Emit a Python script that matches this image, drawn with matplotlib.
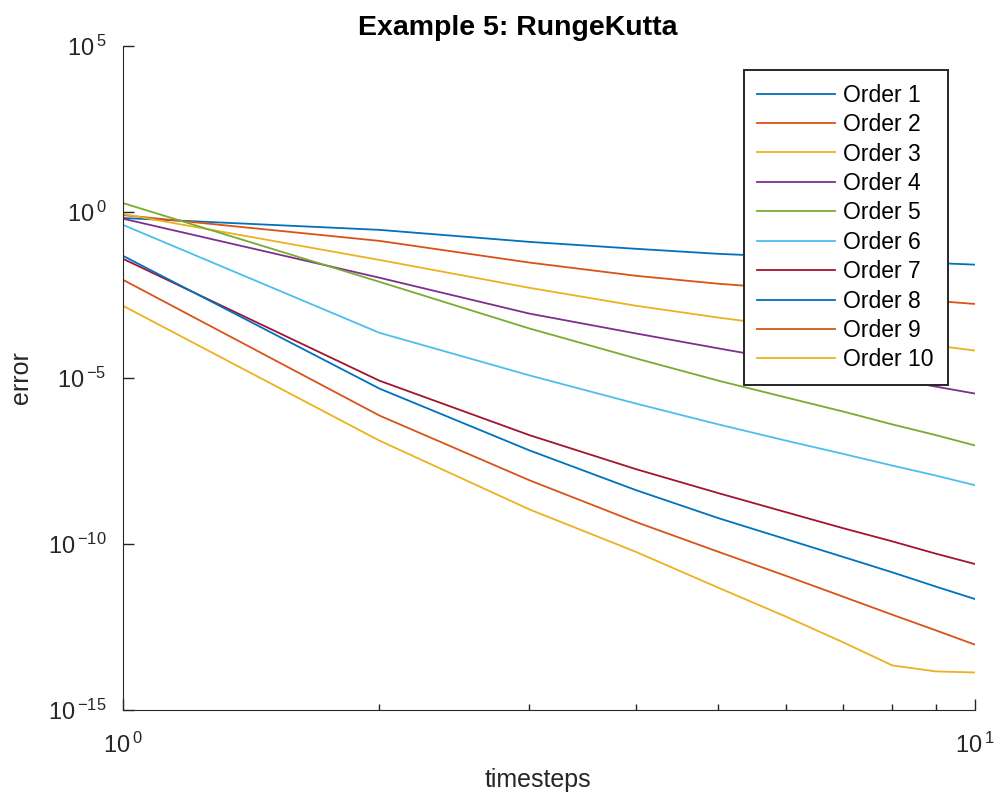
import matplotlib
matplotlib.use('Agg')
import matplotlib.pyplot as plt
import matplotlib.ticker as mticker
import math

# ─── Dados ──────────────────────────────────────────────────────────────────
timesteps = [1, 2, 3, 4, 5, 6, 7, 8, 9, 10]

order1 = [0.66, 0.29, 0.126, 0.078, 0.055, 0.045, 0.038, 0.032, 0.029, 0.026]
order2 = [0.81, 0.135, 0.030, 0.012, 6.9e-3, 4.9e-3, 3.5e-3, 2.7e-3, 2.1e-3, 1.7e-3]
order3 = [0.87, 0.036, 5.2e-3, 1.5e-3, 6.6e-4, 3.6e-4, 2.2e-4, 1.45e-4, 9.5e-5, 6.7e-5]
order4 = [0.63, 0.0105, 8.7e-4, 2.2e-4, 7.8e-5, 3.4e-5, 1.7e-5, 9.3e-6, 5.5e-6, 3.4e-6]
order5 = [1.86, 7.9e-3, 3.1e-4, 3.9e-5, 8.3e-6, 2.6e-6, 9.8e-7, 4.0e-7, 1.9e-7, 9.3e-8]
order6 = [0.41, 2.3e-4, 1.2e-5, 1.7e-6, 4.0e-7, 1.3e-7, 5.2e-8, 2.3e-8, 1.15e-8, 5.9e-9]
order7 = [0.039, 8.3e-6, 1.9e-7, 1.8e-8, 3.4e-9, 9.1e-10, 3.0e-10, 1.2e-10, 5.1e-11, 2.5e-11]
order8 = [0.048, 4.8e-6, 6.6e-8, 4.2e-9, 6.0e-10, 1.4e-10, 4.1e-11, 1.4e-11, 5.2e-12, 2.2e-12]
order9 = [9.1e-3, 7.4e-7, 8.3e-9, 4.6e-10, 5.8e-11, 1.1e-11, 2.6e-12, 7.4e-13, 2.5e-13, 9.3e-14]
order10 = [1.5e-3, 1.3e-7, 1.1e-9, 5.8e-11, 4.8e-12, 6.5e-13, 1.1e-13, 2.2e-14, 1.45e-14, 1.35e-14]

series = [order1, order2, order3, order4, order5, order6, order7, order8, order9, order10]
labels = [f'Order {i}' for i in range(1, 11)]

# paleta padrão do MATLAB (7 cores, repete)
MATLAB_COLORS = ['#0072BD', '#D95319', '#EDB120', '#7E2F8E', '#77AC30', '#4DBEEE', '#A2142F']
INK = '#262626'

plt.rcParams.update({
    'font.family': ['Liberation Sans', 'DejaVu Sans'],
    'mathtext.default': 'regular',
    'axes.edgecolor': INK,
    'xtick.color': INK,
    'ytick.color': INK,
})


def _pow10(v, _):
    """Rótulo estilo MATLAB: 10 com expoente afastado."""
    if v <= 0:
        return ''
    e = int(round(math.log10(v)))
    sign = '{-}' if e < 0 else ''
    return r'$10^{\,%s%d}$' % (sign, abs(e))


fig = plt.figure(figsize=(9.98, 7.99), dpi=100)
ax = fig.add_axes([0.1232, 0.1114, 0.8537, 0.8310])

for i, (vals, lab) in enumerate(zip(series, labels)):
    ax.plot(timesteps, vals, color=MATLAB_COLORS[i % len(MATLAB_COLORS)], lw=1.3, label=lab)

ax.set_xscale('log')
ax.set_yscale('log')
ax.set_xlim(1, 10)
ax.set_ylim(1e-15, 1e5)

ax.set_xticks([1, 10])
ax.xaxis.set_major_formatter(mticker.FuncFormatter(_pow10))
ax.xaxis.set_minor_locator(mticker.LogLocator(base=10, subs=range(2, 10)))
ax.xaxis.set_minor_formatter(mticker.NullFormatter())
ax.set_yticks([1e-15, 1e-10, 1e-5, 1e0, 1e5])
ax.yaxis.set_major_formatter(mticker.FuncFormatter(_pow10))
ax.yaxis.set_minor_locator(mticker.NullLocator())

ax.tick_params(which='both', direction='in', labelsize=17, width=1)
ax.tick_params(which='major', length=8)
ax.tick_params(axis='y', which='major', pad=12)
ax.tick_params(axis='x', which='major', pad=16)
ax.tick_params(which='minor', length=4)

ax.spines['top'].set_visible(False)
ax.spines['right'].set_visible(False)

ax.set_xlabel('timesteps', fontsize=18, color=INK)
ax.set_ylabel('error', fontsize=18, color=INK)
ax.xaxis.set_label_coords((538 - 123) / 852, -0.087)
ax.yaxis.set_label_coords((33 - 123) / 852, 0.5)
fig.text(0.519, 0.965, 'Example 5: RungeKutta', ha='center', va='center',
         fontsize=20.5, fontweight='bold', color='black')

leg = ax.legend(loc='upper right', bbox_to_anchor=(0.968, 0.964), borderaxespad=0,
                fontsize=16.5, frameon=True, fancybox=False, handlelength=3.4,
                handletextpad=0.35, labelspacing=0.28, borderpad=0.6)
leg.get_frame().set_edgecolor(INK)
leg.get_frame().set_linewidth(1.4)
leg.get_frame().set_alpha(1)

fig.savefig('out.png', dpi=100)
